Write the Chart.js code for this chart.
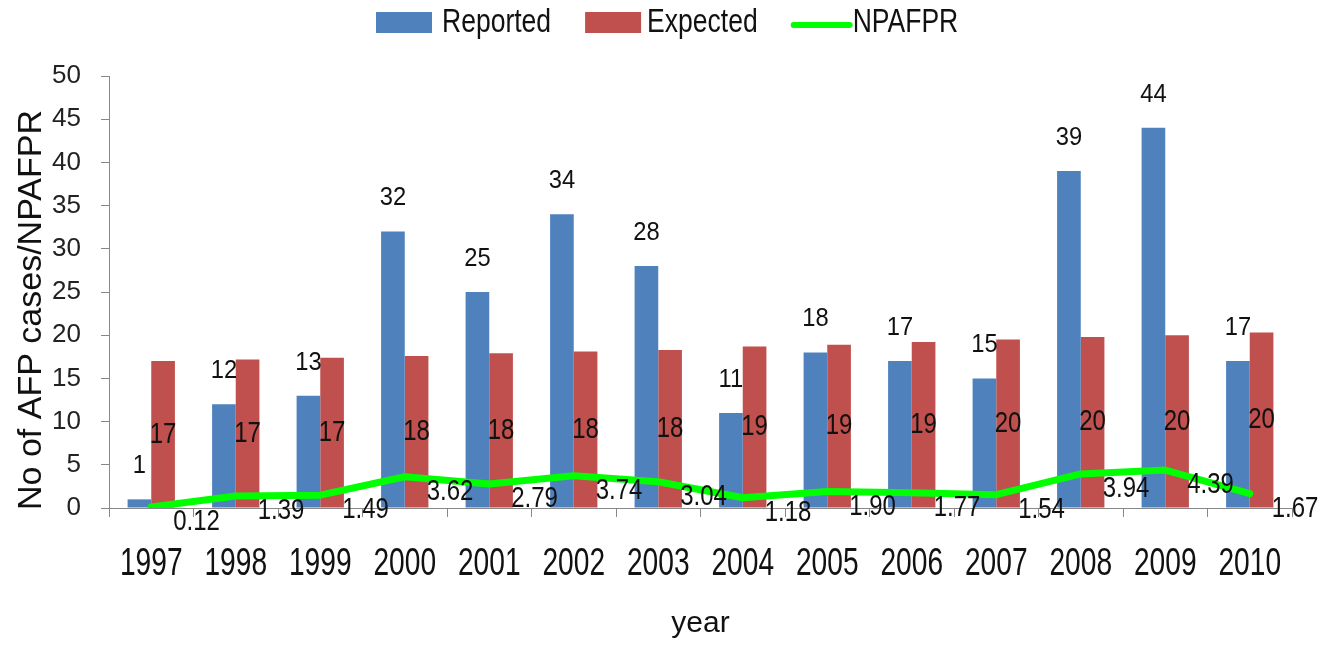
<!DOCTYPE html>
<html>
<head>
<meta charset="utf-8">
<script src="https://cdn.jsdelivr.net/npm/chart.js@4.4.0/dist/chart.umd.min.js"></script>
<style>
  html, body { margin: 0; padding: 0; background: #fff; overflow: hidden; }
  #wrap { width: 1325px; height: 646px; }
</style>
</head>
<body>
<div id="wrap"><canvas id="myChart"></canvas></div>
<script>
const years = ['1997', '1998', '1999', '2000', '2001', '2002', '2003', '2004', '2005', '2006', '2007', '2008', '2009', '2010'];
const reported = [1, 12, 13, 32, 25, 34, 28, 11, 18, 17, 15, 39, 44, 17];
const expected = [17.0, 17.2, 17.4, 17.6, 17.9, 18.1, 18.3, 18.7, 18.9, 19.2, 19.5, 19.8, 20.0, 20.3];
const npafpr = [0.12, 1.39, 1.49, 3.62, 2.79, 3.74, 3.04, 1.18, 1.90, 1.77, 1.54, 3.94, 4.39, 1.67];
const yTicks = [0, 5, 10, 15, 20, 25, 30, 35, 40, 45, 50];

const FONT = "'Liberation Sans', Arial, sans-serif";
const INK = '#111';

// the original text is tall and narrow, so squeeze it sideways
function squeezed(ctx, text, x, y, sx, align) {
    ctx.save();
    ctx.translate(x, y);
    ctx.scale(sx, 1);
    ctx.textAlign = align;
    ctx.fillText(text, 0, 0);
    ctx.restore();
    return ctx.measureText(text).width * sx;
}

// value labels on bars and line
const valueLabels = {
    id: 'valueLabels',
    afterDatasetsDraw(chart) {
        const ctx = chart.ctx;
        ctx.save();
        ctx.fillStyle = INK;
        ctx.textBaseline = 'middle';
        chart.data.datasets.forEach((ds, i) => {
            const meta = chart.getDatasetMeta(i);
            meta.data.forEach((el, j) => {
                const v = ds.data[j];
                if (i === 0) {
                    ctx.font = '25px ' + FONT;
                    squeezed(ctx, String(v), el.x, el.y - 33, 0.95, 'center');
                } else if (i === 1) {
                    ctx.font = '30px ' + FONT;
                    squeezed(ctx, String(Math.round(v)), el.x, (el.y + el.base) / 2, 0.8, 'center');
                } else {
                    ctx.font = '30px ' + FONT;
                    squeezed(ctx, v.toFixed(2), el.x + 22, el.y + 15, 0.8, 'left');
                }
            });
        });
        ctx.restore();
    }
};

// x labels, legend at the top and the rotated y title
const decor = {
    id: 'decor',
    afterDraw(chart) {
        const ctx = chart.ctx;
        ctx.save();
        ctx.fillStyle = INK;

        const xs = chart.scales.x;
        ctx.font = '38px ' + FONT;
        ctx.textBaseline = 'alphabetic';
        chart.data.labels.forEach((lab, i) => {
            squeezed(ctx, lab, xs.getPixelForTick(i), 575, 0.74, 'center');
        });

        ctx.font = '34px ' + FONT;
        ctx.textBaseline = 'middle';
        let x = 376;
        const cy = 23;
        chart.data.datasets.forEach(ds => {
            if (ds.type === 'line') {
                ctx.strokeStyle = ds.borderColor;
                ctx.lineWidth = 6;
                ctx.lineCap = 'round';
                ctx.beginPath();
                ctx.moveTo(x + 2, cy + 2);
                ctx.lineTo(x + 58, cy + 2);
                ctx.stroke();
                x += 61;
            } else {
                ctx.fillStyle = ds.backgroundColor;
                ctx.fillRect(x, 12, 56, 21);
                x += ds.label === 'Reported' ? 66 : 62;
            }
            ctx.fillStyle = INK;
            x += squeezed(ctx, ds.label, x, cy, 0.78, 'left') + 34;
        });

        ctx.translate(32, 310);
        ctx.rotate(-Math.PI / 2);
        ctx.font = '34px ' + FONT;
        ctx.textAlign = 'center';
        ctx.fillText('No of AFP cases/NPAFPR', 0, 0);
        ctx.restore();
    }
};

const ctx = document.getElementById('myChart');
new Chart(ctx, {
    type: 'bar',
    data: {
        labels: years,
        datasets: [{
            label: 'Reported',
            data: reported,
            backgroundColor: '#4F81BD',
            categoryPercentage: 0.56,
            barPercentage: 1.0,
            order: 2
        }, {
            label: 'Expected',
            data: expected,
            backgroundColor: '#C0504D',
            categoryPercentage: 0.56,
            barPercentage: 1.0,
            order: 2
        }, {
            type: 'line',
            label: 'NPAFPR',
            data: npafpr,
            borderColor: '#00FF00',
            borderWidth: 7,
            borderJoinStyle: 'round',
            borderCapStyle: 'round',
            pointRadius: 0,
            tension: 0,
            order: 1
        }]
    },
    options: {
        responsive: true,
        maintainAspectRatio: false,
        animation: false,
        devicePixelRatio: 1,
        layout: { padding: { top: 76, right: 33, bottom: 0, left: 0 } },
        plugins: {
            legend: { display: false },
            tooltip: { enabled: false }
        },
        scales: {
            x: {
                grid: { drawOnChartArea: false, offset: true, tickLength: 9, color: '#888' },
                border: { color: '#888' },
                ticks: { display: false },
                title: { display: true, text: 'year', font: { family: FONT, size: 30 }, color: INK, padding: { top: 0, bottom: 4 } },
                afterFit: s => { s.height = 138; }
            },
            y: {
                min: 0,
                max: 50,
                afterBuildTicks: s => { s.ticks = yTicks.map(v => ({ value: v })); },
                ticks: { font: { family: FONT, size: 26 }, color: '#222', padding: 20 },
                grid: { drawOnChartArea: false, tickLength: 8, color: '#888' },
                border: { color: '#888' },
                afterFit: s => { s.width = 109; }
            }
        }
    },
    plugins: [valueLabels, decor]
});
</script>
</body>
</html>
